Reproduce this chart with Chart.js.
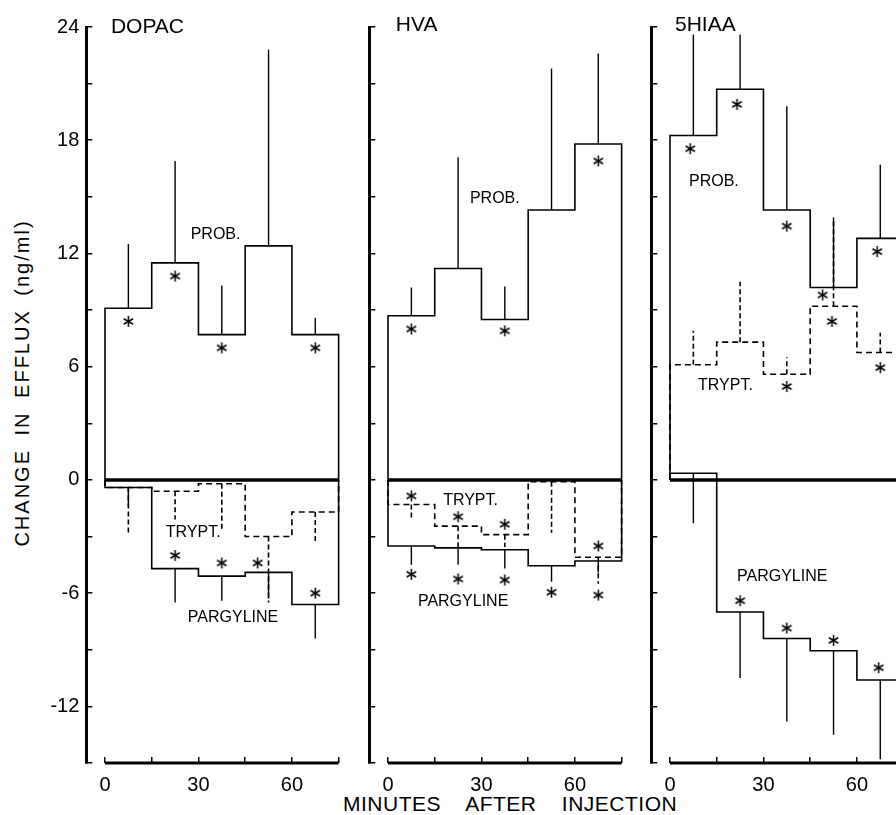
<!DOCTYPE html>
<html>
<head>
<meta charset="utf-8">
<script src="https://cdn.jsdelivr.net/npm/chart.js@4.4.0/dist/chart.umd.min.js"></script>
<style>
  html, body { margin: 0; padding: 0; background: #fff; width: 896px; height: 815px; overflow: hidden; }
  canvas { position: absolute; left: 0; top: 0; }
  #ytitle {
    position: absolute; left: 22px; top: 383px;
    transform: translate(-50%, -50%) rotate(-90deg);
    white-space: nowrap; font: 20px 'Liberation Sans', Arial, sans-serif;
    letter-spacing: 2px; word-spacing: 6px; color: #000;
  }
  #xtitle {
    position: absolute; left: 343px; top: 791px;
    white-space: nowrap; font: 21px 'Liberation Sans', Arial, sans-serif;
    letter-spacing: 0.5px; word-spacing: 19px; color: #000; line-height: 26px;
  }
</style>
</head>
<body>
<div id="ytitle">CHANGE IN EFFLUX (ng/ml)</div>
<div id="xtitle">MINUTES AFTER INJECTION</div>
<canvas id="dopac" width="920" height="815"></canvas>
<canvas id="hva" width="920" height="815"></canvas>
<canvas id="hiaa" width="920" height="815"></canvas>
<script>
// time bins (minutes) and where the error bars sit
const edges = [0, 15, 30, 45, 60, 75];
const mids = [7.5, 22.5, 37.5, 52.5, 67.5];
const xTicks = [0, 15, 30, 45, 60, 75];
const xLabels = [0, 30, 60];
const yTicks = [-15, -12, -9, -6, -3, 0, 3, 6, 9, 12, 15, 18, 21, 24];
const yLabels = [24, 18, 12, 6, 0, -6, -12];

// DOPAC
const dopacProb = [9.1, 11.5, 7.7, 12.4, 7.7];
const dopacProbTip = [12.5, 16.9, 10.3, 22.8, 8.6];
const dopacTrypt = [-0.4, -0.6, -0.2, -3.0, -1.7];
const dopacTryptTip = [-2.8, -2.1, -2.7, -6.5, -3.3];
const dopacParg = [-0.4, -4.7, -5.1, -4.9, -6.6];
const dopacPargTip = [-1.4, -6.5, -6.4, -6.3, -8.4];
const dopacStars = [[7.5, 8.4], [22.5, 10.8], [37.5, 7.0], [67.5, 7.0],
                    [22.5, -4.0], [37.5, -4.4], [49, -4.4], [67.5, -6.0]];

// HVA
const hvaProb = [8.7, 11.2, 8.5, 14.3, 17.8];
const hvaProbTip = [10.2, 17.1, 10.25, 21.8, 22.6];
const hvaTrypt = [-1.3, -2.45, -2.9, -0.1, -4.1];
const hvaTryptTip = [-2.0, -3.6, -3.55, -2.8, -5.5];
const hvaParg = [-3.5, -3.6, -3.7, -4.55, -4.3];
const hvaPargTip = [-4.5, -4.5, -4.7, -5.4, -4.9];
const hvaStars = [[7.5, 8.0], [37.5, 7.9], [67.5, 16.9],
                  [7.5, -0.85], [22.5, -1.95], [37.5, -2.35], [67.5, -3.5],
                  [7.5, -5.0], [22.5, -5.25], [37.5, -5.3], [52.5, -5.95], [67.5, -6.1]];

// 5HIAA
const hiaaProb = [18.25, 20.7, 14.3, 10.2, 12.8];
const hiaaProbTip = [23.6, 23.6, 19.8, 13.9, 16.7];
const hiaaTrypt = [6.1, 7.3, 5.6, 9.2, 6.75];
const hiaaTryptTip = [7.9, 10.5, 6.5, 13.8, 7.8];
const hiaaParg = [0.35, -7.0, -8.4, -9.05, -10.6];
const hiaaPargTip = [-2.3, -10.5, -12.8, -13.5, -14.8];
const hiaaStars = [[6.5, 17.55], [21.5, 19.9], [37.5, 13.45], [49, 9.8], [66.5, 12.1],
                   [37.5, 4.95], [52, 8.4], [67.5, 5.95],
                   [22.5, -6.4], [37.5, -7.85], [52.5, -8.5], [67, -9.95]];

// in-plot labels [text, x, y, size]
const dopacLabels = [['DOPAC', 1.9, 24.0, 21], ['PROB.', 27.5, 13.0, 16], ['TRYPT.', 19.5, -2.8, 16], ['PARGYLINE', 26.6, -7.3, 16]];
const hvaLabels = [['HVA', 2.5, 24.1, 21], ['PROB.', 26.3, 14.9, 16], ['TRYPT.', 17.7, -1.1, 16], ['PARGYLINE', 9.6, -6.45, 16]];
const hiaaLabels = [['5HIAA', 1.6, 24.1, 21], ['PROB.', 6.1, 15.8, 16], ['TRYPT.', 9.0, 5.0, 16], ['PARGYLINE', 21.5, -5.1, 16]];

Chart.defaults.font.family = "'Liberation Sans', Arial, sans-serif";
Chart.defaults.color = '#000';

function makeStar(size) {
    const c = document.createElement('canvas');
    c.width = size; c.height = size;
    const g = c.getContext('2d');
    g.strokeStyle = '#000';
    g.lineWidth = 1.5;
    const r = size / 2 - 1;
    for (let k = 0; k < 3; k++) {
        const a = Math.PI / 2 + k * Math.PI / 3;
        g.beginPath();
        g.moveTo(size / 2 + r * Math.cos(a), size / 2 + r * Math.sin(a));
        g.lineTo(size / 2 - r * Math.cos(a), size / 2 - r * Math.sin(a));
        g.stroke();
    }
    return c;
}
const starImg = makeStar(13);

function steps(vals) {
    const last = edges[edges.length - 1];
    const pts = [{x: edges[0], y: 0}];
    vals.forEach((v, i) => pts.push({x: edges[i], y: v}));
    pts.push({x: last, y: vals[vals.length - 1]}, {x: last, y: 0});
    return pts;
}

function bars(base, tip) {
    const pts = [];
    mids.forEach((m, i) => pts.push({x: m, y: base[i]}, {x: m, y: tip[i]}, {x: m, y: null}));
    return pts;
}

function line(data, width, dash) {
    return {
        data: data, borderColor: '#000', borderWidth: width, borderDash: dash || [],
        pointRadius: 0, fill: false, spanGaps: false, clip: false, tension: 0
    };
}

const textPlugin = {
    id: 'panelText',
    afterDatasetsDraw(chart) {
        const ctx = chart.ctx;
        const sx = chart.scales.x, sy = chart.scales.y;
        ctx.save();
        ctx.fillStyle = '#000';
        ctx.textAlign = 'left';
        ctx.textBaseline = 'middle';
        chart.options.plugins.panelText.labels.forEach(l => {
            ctx.font = l[3] + "px 'Liberation Sans', Arial, sans-serif";
            ctx.fillText(l[0], sx.getPixelForValue(l[1]), sy.getPixelForValue(l[2]));
        });
        ctx.restore();
    }
};

const PX = 3.115;   // pixels per minute
function makePanel(id, x0, showY, prob, probTip, trypt, tryptTip, parg, pargTip, stars, labels) {
    const left = x0 - 6 * PX, right = x0 + 75 * PX;
    const yW = showY ? 60 : 10;
    const stepped = {stepped: 'before'};
    new Chart(document.getElementById(id), {
        type: 'line',
        data: {
            datasets: [
                line([{x: 0, y: 0}, {x: 75, y: 0}], 3.5),
                line([{x: 0, y: -15}, {x: 75, y: -15}], 3),
                Object.assign(line(steps(prob), 1.6), stepped),
                Object.assign(line(steps(trypt), 1.6, [6, 4]), stepped),
                Object.assign(line(steps(parg), 1.6), stepped),
                line(bars(prob, probTip), 1.4),
                line(bars(trypt, tryptTip), 1.6, [5, 3]),
                line(bars(parg, pargTip), 1.4),
                {
                    type: 'scatter',
                    data: stars.map(s => ({x: s[0], y: s[1]})),
                    pointStyle: starImg, pointRadius: 6, showLine: false, clip: false
                }
            ]
        },
        options: {
            responsive: false,
            animation: false,
            events: [],
            layout: { padding: { left: left - yW, right: 920 - right, top: 27, bottom: 12 } },
            plugins: {
                legend: { display: false },
                tooltip: { enabled: false },
                panelText: { labels: labels }
            },
            scales: {
                x: {
                    type: 'linear', min: -6, max: 75,
                    border: { display: false },
                    grid: { drawOnChartArea: false, tickLength: -6, color: '#000', lineWidth: 1.5 },
                    ticks: {
                        autoSkip: false, maxRotation: 0, padding: 16,
                        font: { size: 20 },
                        callback: v => xLabels.includes(v) ? String(v) : ''
                    },
                    afterBuildTicks: s => { s.ticks = xTicks.map(v => ({value: v})); },
                    afterFit: s => { s.height = 40; }
                },
                y: {
                    type: 'linear', min: -15, max: 24,
                    border: { display: true, color: '#000', width: 3 },
                    grid: { drawOnChartArea: false, tickLength: -6, color: '#000', lineWidth: 1.5 },
                    ticks: {
                        autoSkip: false, padding: 13,
                        font: { size: 20 },
                        callback: v => (showY && yLabels.includes(v)) ? String(v) : ''
                    },
                    afterBuildTicks: s => { s.ticks = yTicks.map(v => ({value: v})); },
                    afterFit: s => { s.width = yW; }
                }
            }
        },
        plugins: [textPlugin]
    });
}

makePanel('dopac', 105, true, dopacProb, dopacProbTip, dopacTrypt, dopacTryptTip, dopacParg, dopacPargTip, dopacStars, dopacLabels);
makePanel('hva', 388, false, hvaProb, hvaProbTip, hvaTrypt, hvaTryptTip, hvaParg, hvaPargTip, hvaStars, hvaLabels);
makePanel('hiaa', 670, false, hiaaProb, hiaaProbTip, hiaaTrypt, hiaaTryptTip, hiaaParg, hiaaPargTip, hiaaStars, hiaaLabels);
</script>
</body>
</html>
